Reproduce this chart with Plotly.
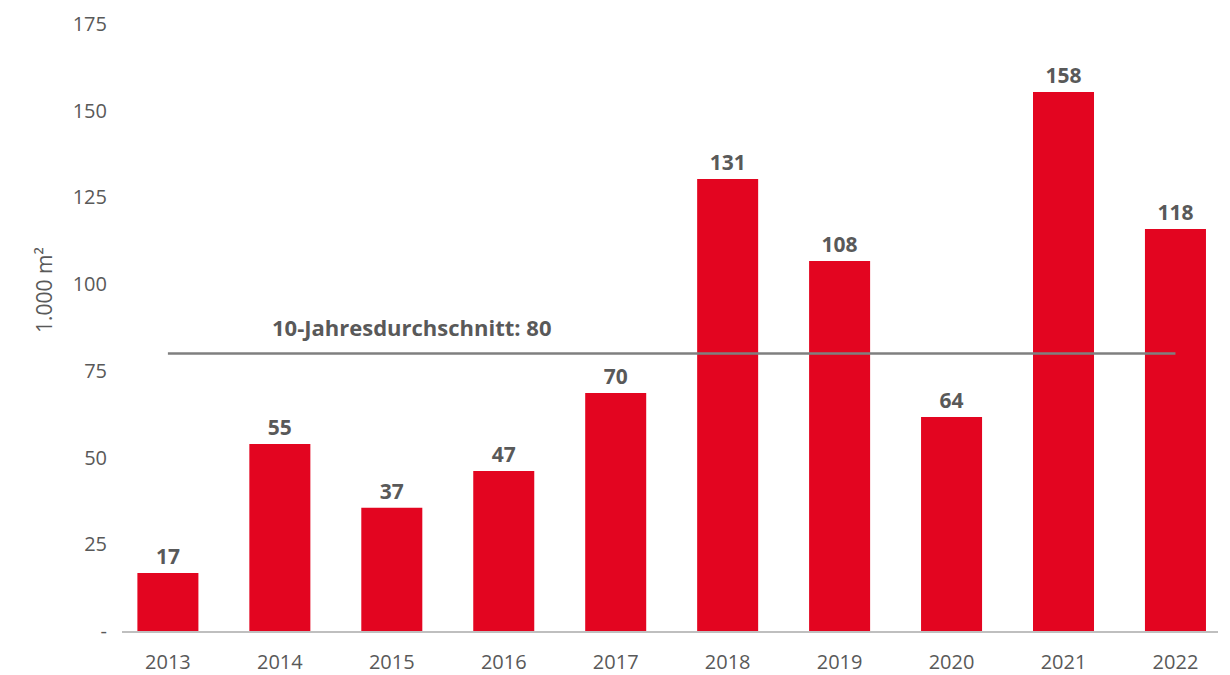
import plotly.graph_objects as go

years = ["2013", "2014", "2015", "2016", "2017", "2018", "2019", "2020", "2021", "2022"]
bar_values = [16.7, 53.9, 35.5, 46.1, 68.6, 130.3, 106.7, 61.7, 155.4, 115.9]
bar_labels = ["17", "55", "37", "47", "70", "131", "108", "64", "158", "118"]
avg_value = 80
avg_label = "10-Jahresdurchschnitt: 80"
y_tickvals = [0, 25, 50, 75, 100, 125, 150, 175]
y_ticktext = ["-", "25", "50", "75", "100", "125", "150", "175"]

RED = "#E30520"
GRAY_TXT = "#595959"
FONT = "Open Sans"

fig = go.Figure()
fig.add_trace(go.Bar(
    x=years, y=bar_values, text=bar_labels, textposition="outside",
    textfont=dict(family=FONT, size=21, color=GRAY_TXT, weight="bold"),
    marker=dict(color=RED, line=dict(width=0)), width=0.545,
    cliponaxis=False, hoverinfo="skip",
))
fig.add_trace(go.Scatter(
    x=[years[0], years[-1]], y=[avg_value, avg_value], mode="lines",
    line=dict(color="#7f7f7f", width=2.5), hoverinfo="skip",
))
fig.add_annotation(
    xref="paper", yref="y", x=0.135, y=avg_value, text="<b>" + avg_label + "</b>",
    showarrow=False, xanchor="left", yanchor="bottom", yshift=10,
    font=dict(family=FONT, size=22, color=GRAY_TXT),
)
fig.add_annotation(
    xref="paper", yref="paper", x=-0.071, y=0.562, text="1.000 m²", textangle=-90,
    showarrow=False, xanchor="center", yanchor="middle",
    font=dict(family=FONT, size=21, color=GRAY_TXT),
)

# page body has an 8px offset, so the figure is sized/margined to compensate
fig.update_layout(
    width=1222, height=667, showlegend=False,
    paper_bgcolor="white", plot_bgcolor="white",
    margin=dict(l=114, r=12, t=16, b=44, autoexpand=False),
    font=dict(family=FONT, size=20, color=GRAY_TXT),
    xaxis=dict(
        type="category", range=[-0.41, 9.38], showgrid=False, zeroline=False,
        showline=True, linecolor="#bfbfbf", linewidth=1.5, automargin=False,
        ticks="outside", ticklen=12, tickcolor="rgba(0,0,0,0)",
        tickfont=dict(family=FONT, size=20, color=GRAY_TXT),
    ),
    yaxis=dict(
        range=[0, 175], tickvals=y_tickvals, ticktext=y_ticktext,
        showgrid=False, zeroline=False, showline=False, automargin=False,
        ticks="outside", ticklen=10, tickcolor="rgba(0,0,0,0)",
        tickfont=dict(family=FONT, size=20, color=GRAY_TXT),
    ),
)

fig.write_html("out.html")
